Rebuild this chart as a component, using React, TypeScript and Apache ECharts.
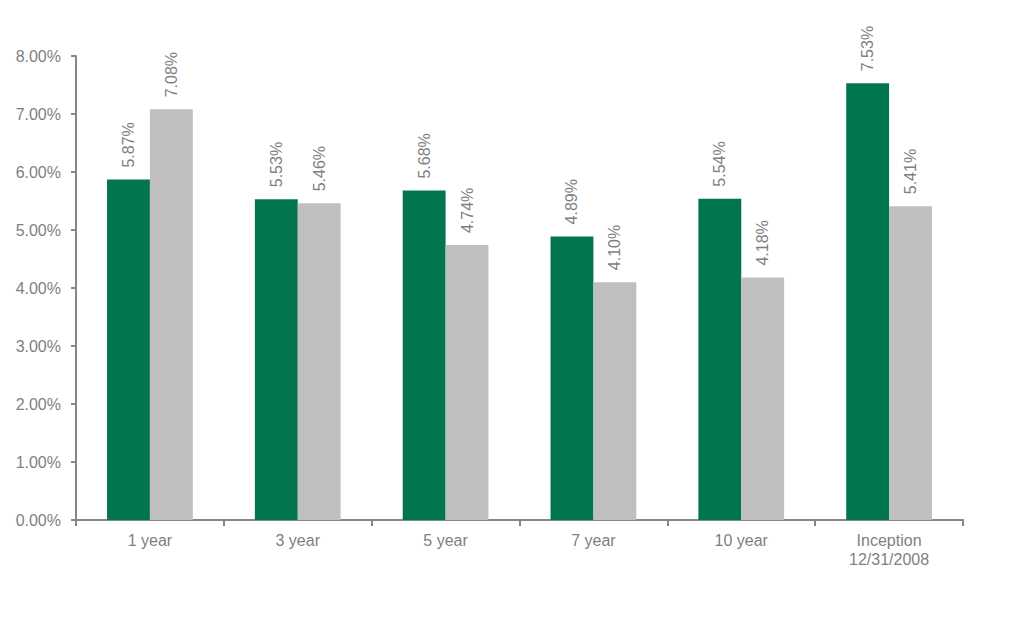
import React, { useEffect, useRef } from "react";
import * as echarts from "echarts";

const categories = ["1 year", "3 year", "5 year", "7 year", "10 year", "Inception\n12/31/2008"];
const fundValues = [5.87, 5.53, 5.68, 4.89, 5.54, 7.53];
const benchmarkValues = [7.08, 5.46, 4.74, 4.1, 4.18, 5.41];
const yTicks = [0, 1, 2, 3, 4, 5, 6, 7, 8];

const FONT = "'Liberation Sans', Arial, sans-serif";
const TEXT = "#7f7f7f";
const AXIS = "#868686";

export default function App() {
  const ref = useRef<HTMLDivElement>(null);
  useEffect(() => {
    if (!ref.current) return;
    const chart = echarts.init(ref.current, undefined, { renderer: "svg" });
    const label = {
      show: true,
      position: "top" as const,
      rotate: 90,
      distance: 12,
      align: "left" as const,
      verticalAlign: "middle" as const,
      color: TEXT,
      fontFamily: FONT,
      fontSize: 16,
      formatter: (p: any) => p.value.toFixed(2) + "%",
    };
    chart.setOption({
      animation: false,
      grid: { left: 76, top: 56, right: 67, bottom: 109, containLabel: false },
      xAxis: {
        type: "category",
        data: categories,
        axisLine: { lineStyle: { color: AXIS, width: 2 } },
        axisTick: { show: true, length: 6, alignWithLabel: false, lineStyle: { color: AXIS, width: 2 } },
        axisLabel: { color: TEXT, fontFamily: FONT, fontSize: 16, margin: 11, lineHeight: 19, interval: 0 },
      },
      yAxis: {
        type: "value",
        min: yTicks[0],
        max: yTicks[yTicks.length - 1],
        interval: 1,
        axisLine: { show: true, lineStyle: { color: AXIS, width: 2 } },
        axisTick: { show: true, length: 5, lineStyle: { color: AXIS, width: 2 } },
        splitLine: { show: false },
        axisLabel: {
          color: TEXT,
          fontFamily: FONT,
          fontSize: 16,
          margin: 15,
          formatter: (v: number) => v.toFixed(2) + "%",
        },
      },
      series: [
        {
          type: "bar",
          data: fundValues,
          itemStyle: { color: "#00754f" },
          barGap: "0%",
          barCategoryGap: "42%",
          label,
        },
        {
          type: "bar",
          data: benchmarkValues,
          itemStyle: { color: "#bfbfbf" },
          label,
        },
      ],
    });
    return () => chart.dispose();
  }, []);
  return <div ref={ref} style={{ width: 1030, height: 629, position: "absolute", left: 0, top: 0 }} />;
}
